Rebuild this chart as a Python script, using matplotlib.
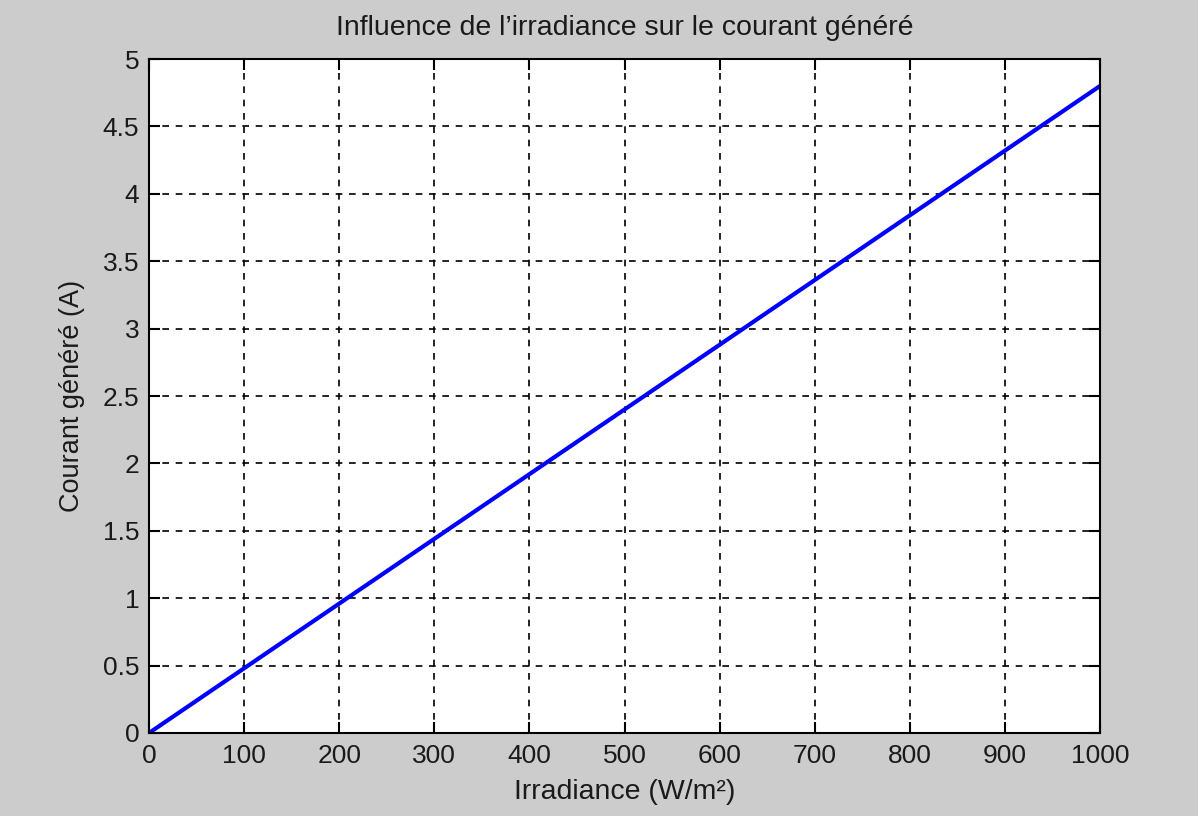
import matplotlib
matplotlib.use("Agg")
import matplotlib.pyplot as plt

irradiance = [0, 100, 200, 300, 400, 500, 600, 700, 800, 900, 1000]
courant = [0, 0.48, 0.96, 1.44, 1.92, 2.40, 2.88, 3.36, 3.84, 4.32, 4.80]
xticks = [0, 100, 200, 300, 400, 500, 600, 700, 800, 900, 1000]
yticks = [0, 0.5, 1, 1.5, 2, 2.5, 3, 3.5, 4, 4.5, 5]
ytick_labels = ["0", "0.5", "1", "1.5", "2", "2.5", "3", "3.5", "4", "4.5", "5"]

plt.rcParams['font.family'] = ['Liberation Sans', 'DejaVu Sans']

fig = plt.figure(figsize=(11.98, 8.16), dpi=100, facecolor='#cccccc')
ax = fig.add_axes([149/1198, 1 - 733/816, (1100-149)/1198, (733-59)/816])
ax.set_facecolor('white')
ax.plot(irradiance, courant, color='#0000ff', linewidth=3)
ax.set_xlim(0, 1000)
ax.set_ylim(0, 5)
ax.set_xticks(xticks)
ax.set_yticks(yticks)
ax.set_yticklabels(ytick_labels)
ax.grid(True, color='black', linestyle=(0, (4, 4)), linewidth=1.2)
ax.tick_params(direction='in', length=8, width=1.5, top=True, right=True,
               labelsize=19, labelcolor='#1a1a1a')
ax.tick_params(axis='x', pad=8)
ax.tick_params(axis='y', pad=7)
for s in ax.spines.values():
    s.set_linewidth(1.5)
ax.set_title("Influence de l\u2019irradiance sur le courant généré", fontsize=20.5, pad=17, color='#1a1a1a')
ax.set_xlabel("Irradiance (W/m²)", fontsize=20.5, labelpad=8, color='#1a1a1a')
ax.set_ylabel("Courant généré (A)", fontsize=19.5, labelpad=13, color='#1a1a1a')
fig.savefig("out.png", dpi=100, facecolor=fig.get_facecolor())
